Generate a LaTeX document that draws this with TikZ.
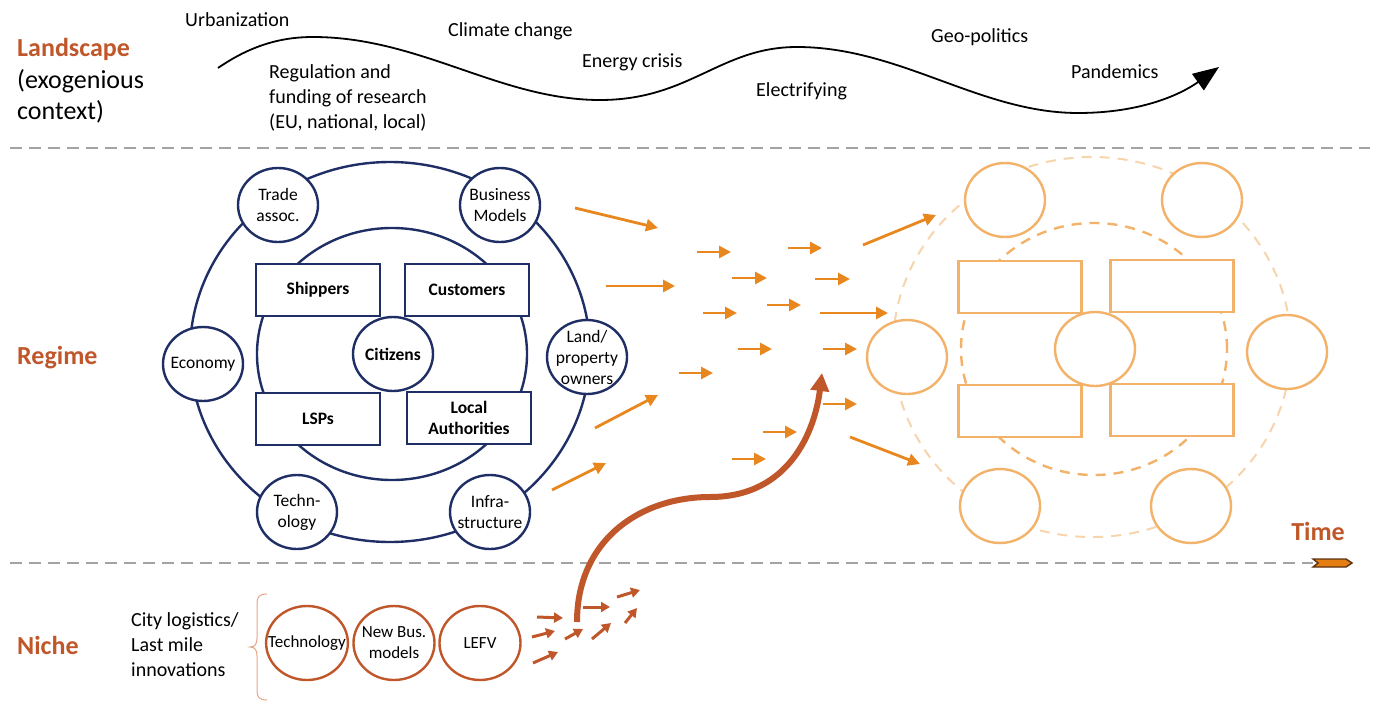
\documentclass[tikz,border=0pt]{standalone}
\usepackage{fontspec}
\setmainfont{Carlito}
\usetikzlibrary{positioning,arrows.meta,shapes.geometric}
\definecolor{navy}{HTML}{1F2F66}
\definecolor{rust}{HTML}{C0572B}
\definecolor{amber}{HTML}{E8871E}
\definecolor{peach}{HTML}{F2B26A}
\definecolor{peachlt}{HTML}{F7D4AC}
\definecolor{divider}{HTML}{A3A3A3}
\definecolor{bracecol}{HTML}{E7A585}
\definecolor{tipdark}{HTML}{5A3210}
\definecolor{tipfill}{HTML}{E47E12}
\tikzset{
  lbl/.style     ={font=\fontsize{20}{25}\selectfont, anchor=west, align=left, inner sep=0pt},
  lvl/.style     ={font=\fontsize{26}{31.5}\selectfont, anchor=west, align=left, inner sep=0pt},
  actor/.style   ={draw=navy, line width=2.4pt, fill=white, ellipse, minimum width=80pt, minimum height=74pt, inner xsep=-10pt, inner ysep=-14pt, align=center, font=\fontsize{17.5}{21}\selectfont},
  group/.style   ={draw=navy, line width=2.4pt, fill=white, minimum width=124pt, minimum height=52pt, inner sep=0pt, align=center, font=\fontsize{17.5}{21}\selectfont\bfseries},
  ghost/.style   ={draw=peach, line width=2.4pt, fill=white, ellipse, minimum width=80pt, minimum height=74pt},
  ghostbox/.style={draw=peach, line width=2.4pt, fill=white, minimum width=123pt, minimum height=52pt},
  inno/.style    ={draw=rust, line width=2.4pt, fill=white, ellipse, minimum width=81pt, minimum height=74pt, inner xsep=-10pt, inner ysep=-14pt, align=center, font=\fontsize{17}{21}\selectfont},
  flow/.style    ={draw=amber, line width=2.8pt, -{Triangle[length=12pt,width=12pt]}},
  spark/.style   ={draw=rust, line width=3pt, -{Triangle[length=9pt,width=10pt]}},
  sep/.style     ={draw=divider, line width=2.5pt, dash pattern=on 12pt off 7pt},
}

\begin{document}
\begin{tikzpicture}[x=1pt,y=-1pt]
  \useasboundingbox (0,0) rectangle (1378,701);
  \draw[sep] (10,148) -- (1370,148);
  \draw[sep] (10,563) -- (1313,563);

  % landscape
  \node[lvl] (land) at (17,81) {\textbf{\color{rust}Landscape}\\(exogenious\\context)};
  \draw[line width=1.8pt, -{Triangle[length=26pt,width=20pt]}]
    (218,68) .. controls (250,46) and (280,37) .. (313,37)
    .. controls (420,37) and (500,100) .. (600,100)
    .. controls (690,100) and (720,47) .. (797,47)
    .. controls (900,47) and (980,113) .. (1078,113)
    .. controls (1140,113) and (1180,95) .. (1219,67);
  \node[lbl] (urb) at (185,20) {Urbanization};
  \node[lbl] (reg) at (269,98) {Regulation and\\funding of research\\(EU, national, local)};
  \node[lbl] (clim) at (448,31) {Climate change};
  \node[lbl] (ener) at (582,62) {Energy crisis};
  \node[lbl] (elec) at (756,91) {Electrifying};
  \node[lbl] (geo) at (931,37) {Geo-politics};
  \node[lbl] (pand) at (1071,72) {Pandemics};

  % regime
  \node[lvl] (regime) at (17,358) {\textbf{\color{rust}Regime}};
  \draw[navy, line width=2.4pt] (390,352) ellipse [x radius=200pt, y radius=190pt];
  \draw[navy, line width=2.4pt] (392,354) ellipse [x radius=135pt, y radius=126pt];
  \node[actor] (trade) at (278,205) {Trade\\assoc.};
  \node[actor] (bizmod) at (500,205) {Business\\Models};
  \node[actor] (econ) at (203,364) {Economy};
  \node[actor] (owners) at (587,357) {Land/\\property\\owners};
  \node[actor] (techn) at (297,512) {Techn-\\ology};
  \node[actor] (infra) at (490,512) {Infra-\\structure};
  \node[group] (ship) at (318,290) {Shippers};
  \node[group] (cust) at (467,290) {Customers};
  \node[group] (lsp) at (318,419) {LSPs};
  \node[group] (auth) at (469,418) {Local\\Authorities};
  \node[actor, font=\fontsize{17.5}{21}\selectfont\bfseries] (citz) at (393,354) {Citizens};

  \foreach \xa/\ya/\xb/\yb in {575/208/658/228, 606/286/675/286, 595/428/658/395, 552/490/606/463,
                     697/252/731/252, 788/248/822/248, 732/278/767/278, 815/279/850/279,
                     703/313/737/313, 767/305/801/305, 820/313/888/313, 738/349/772/349,
                     823/349/857/349, 679/373/713/373, 823/404/857/404, 763/432/797/432,
                     732/459/766/459, 863/245/936/215, 850/437/920/464}
    \draw[flow] (\xa,\ya) -- (\xb,\yb);

  % new regime
  \draw[peachlt, line width=2pt, dash pattern=on 10pt off 8pt] (1092,347) ellipse [x radius=199pt, y radius=190pt];
  \draw[peach, line width=2.4pt, dash pattern=on 10pt off 8pt] (1094,349) ellipse [x radius=133pt, y radius=126pt];
  \node[ghost] (g1) at (1005,200) {};
  \node[ghost] (g2) at (1202,200) {};
  \node[ghost] (g3) at (907,357) {};
  \node[ghost] (g4) at (1287,352) {};
  \node[ghost] (g5) at (1000,506) {};
  \node[ghost] (g6) at (1191,506) {};
  \node[ghostbox] (b1) at (1020,287) {};
  \node[ghostbox] (b2) at (1172,286) {};
  \node[ghostbox] (b3) at (1020,411) {};
  \node[ghostbox] (b4) at (1172,410) {};
  \node[ghost] (g7) at (1095,349) {};

  \node[lvl, anchor=center] (time) at (1318,531) {\textbf{\color{rust}Time}};
  \draw[draw=tipdark, fill=tipfill, line width=1.4pt]
    (1313,559) -- (1346,559) -- (1352,563) -- (1346,567) -- (1313,567) -- (1318,563) -- cycle;

  % niche
  \node[lvl] (niche) at (17,645) {\textbf{\color{rust}Niche}};
  \node[lbl] (city) at (131,645) {City logistics/\\Last mile\\innovations};
  \draw[bracecol, line width=1pt]
    (267,594) .. controls (259,594) and (257,597) .. (257,604) -- (257,638)
    .. controls (257,644) and (255,647) .. (250,647)
    .. controls (255,647) and (257,650) .. (257,656) -- (257,690)
    .. controls (257,697) and (259,700) .. (267,700);
  \node[inno] (ntech) at (307,643) {Technology};
  \node[inno] (nbus) at (394,643) {New Bus.\\models};
  \node[inno] (lefv) at (480,643) {LEFV};
  \foreach \xa/\ya/\xb/\yb in {537/617/563/618, 532/637/555/631, 533/663/558/652, 565/639/583/629,
                     583/607/610/607, 592/639/611/623, 617/597/640/590, 625/623/637/608}
    \draw[spark] (\xa,\ya) -- (\xb,\yb);
  \draw[rust, line width=6pt, -{Triangle[length=18pt,width=18pt]}]
    (577,622) .. controls (577,540) and (640,497) .. (710,497)
    .. controls (790,497) and (815,430) .. (822,373);
\end{tikzpicture}
\end{document}
